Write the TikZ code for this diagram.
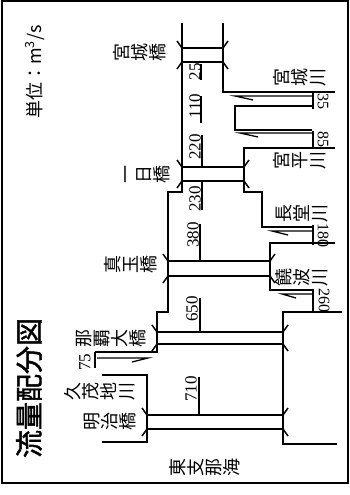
\documentclass[tikz,border=0pt]{standalone}
\usepackage{fontspec}
\setmainfont{Liberation Serif}
\newfontfamily\jpfont{Noto Sans CJK JP}
\newfontfamily\jptitle{Noto Sans CJK JP}[FakeBold=1.5]
\usetikzlibrary{arrows.meta}
\tikzset{
  bank/.style={line width=1.5pt, line join=miter},
  lead/.style={line width=1.3pt},
  flow/.style={line width=1.3pt, line join=miter},
  jlab/.style={font=\jpfont\fontsize{18}{18}\selectfont, align=center, inner sep=0pt, rotate=90},
  title/.style={font=\jptitle\fontsize{28}{28}\selectfont, inner sep=0pt, rotate=90},
  unit/.style={font=\jpfont\fontsize{18}{18}\selectfont, inner sep=0pt, rotate=90},
  num/.style={font=\fontsize{17}{17}\selectfont, inner sep=0pt, rotate=90},
  rnum/.style={font=\fontsize{16}{16}\selectfont, inner sep=0pt, rotate=-90},
}
\newcommand\mybridge[4]{%
  \draw[bank] (#1,#3) -- (#2,#3) (#1,#4) -- (#2,#4);
  \draw[bank] (#1,#3) -- ++(-5,-7) (#2,#3) -- ++(5,-7)
              (#1,#4) -- ++(-5,7) (#2,#4) -- ++(5,7);
}
\begin{document}
\begin{tikzpicture}[x=1pt,y=-1pt]
\useasboundingbox (0,0) rectangle (350,495);
\fill[white] (0,0) rectangle (350,495);
% frame
\draw[line width=1.3pt] (2,1) rectangle (348,483);

% left bank of main river
\draw[bank] (182,23) -- (182,192) -- (168,192) -- (168,312) -- (157,312) -- (157,352) -- (95,352);
\draw[bank] (102,375) -- (147,375) -- (147,442) -- (102,442);
% right bank and tributaries
\draw[bank] (223,23) -- (223,92) -- (335,92);
\draw[bank] (312,106) -- (235,106) -- (235,130) -- (312,130);
\draw[bank] (335,148) -- (244,148) -- (244,192) -- (262,192) -- (262,227) -- (313,227);
\draw[bank] (335,243) -- (270,243) -- (270,290) -- (313,290);
\draw[bank] (342,312) -- (283,312) -- (283,444) -- (337,444);

% bridges
\mybridge{182}{223}{48}{62}
\mybridge{182}{244}{167}{181}
\mybridge{168}{270}{261}{276}
\mybridge{157}{283}{332}{344}
\mybridge{147}{283}{415}{429}

% tributary flows (half-barb arrows)
\draw[flow] (312,96) -- (235,96) -- ++(18,4);
\draw[flow] (313,133) -- (240,133) -- ++(18,4);
\draw[flow] (313,231) -- (272,231) -- ++(16,4);
\draw[flow] (313,294) -- (282,294) -- ++(14,4);
\draw[flow] (97,358) -- (148,358) -- ++(-16,4);

% main river flow numbers with underlines
\node[num] (q25)  at (195,72)  {25};
\draw[lead] (201,64) -- (201,80);
\node[num] (q110) at (195,106) {110};
\draw[lead] (201,96) -- (201,123);
\node[num] (q220) at (195,147) {220};
\draw[lead] (202,135) -- (202,166);
\node[num] (q230) at (195,199) {230};
\draw[lead] (202,182) -- (202,210);
\node[num] (q380) at (193,235) {380};
\draw[lead] (200,224) -- (200,261);
\node[num] (q650) at (192,309) {650};
\draw[lead] (200,298) -- (200,332);
\node[num] (q710) at (191,389) {710};
\draw[lead] (199,377) -- (199,415);

% tributary numbers
\node[rnum] (t35)  at (323,101) {35};
\draw[lead] (313,93) -- (313,109);
\node[rnum] (t85)  at (323,139) {85};
\draw[lead] (313,131) -- (313,147);
\node[rnum] (t180) at (323,235) {180};
\draw[lead] (313,225) -- (313,245);
\node[rnum] (t260) at (324,300) {260};
\draw[lead] (313,289) -- (313,311);
\node[num] (t75) at (85,362) {75};
\draw[lead] (95,352) -- (95,368);

% labels
\node[unit] (unit) at (35,72) {単位：m\textsuperscript{3}/s};
\node[title] (ttl) at (29,388) {流量配分図};
\node[jlab] (miyagibr) at (140,53) {宮\\城\\橋};
\node[jlab] (miyagiri) at (300,77) {宮\\城\\川};
\node[jlab] (ichinichi) at (147,174) {一\\日\\橋};
\node[jlab] (miyahira) at (300,160) {宮\\平\\川};
\node[jlab] (nagado) at (302,213) {長\\堂\\川};
\node[jlab] (madan) at (131,264) {真\\玉\\橋};
\node[jlab] (nuha) at (302,277) {饒\\波\\川};
\node[jlab] (naha) at (111,338) {那\\覇\\大\\橋};
\node[jlab] (kumoji) at (100,391) {久\\茂\\地\\川};
\node[jlab] (meiji) at (110,421) {明\\治\\橋};
\node[jlab] (sea) at (205,467) {東\\支\\那\\海};
\end{tikzpicture}
\end{document}
